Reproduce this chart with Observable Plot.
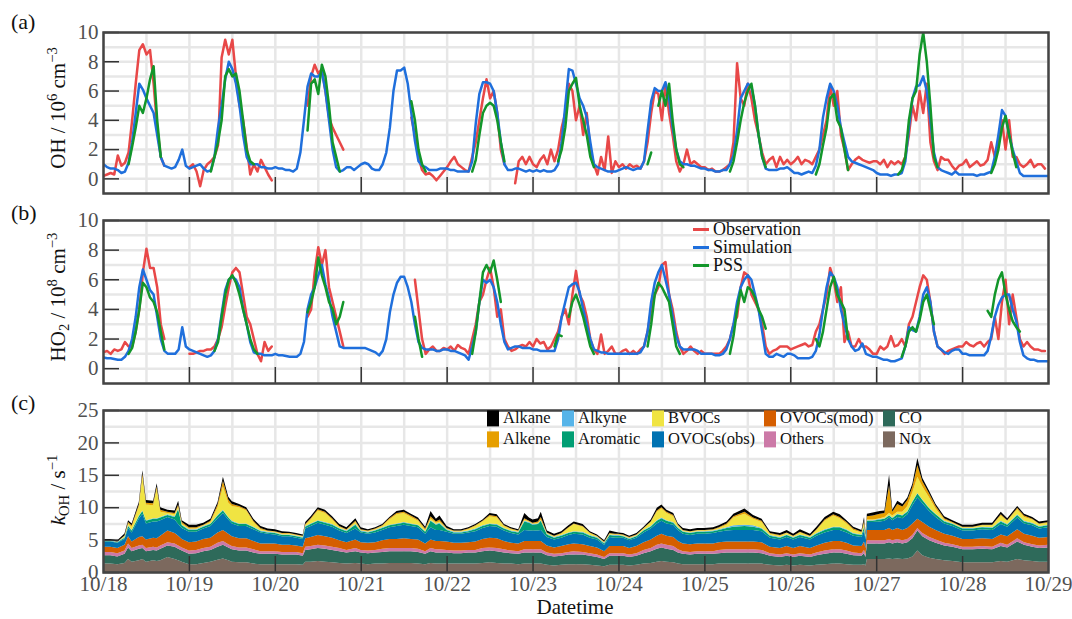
<!DOCTYPE html>
<html><head><meta charset="utf-8">
<script src="https://cdn.jsdelivr.net/npm/d3@7"></script>
<script src="https://cdn.jsdelivr.net/npm/@observablehq/plot@0.6"></script>
<style>
body{margin:0;background:#fff;}
#wrap{position:relative;width:1072px;height:619px;overflow:hidden;font-family:"Liberation Serif","Times New Roman",serif;color:#111;}
#wrap svg, #wrap svg text{font-family:"Liberation Serif","Times New Roman",serif !important;}
.panel{position:absolute;left:0;}
.ylab{position:absolute;transform:translate(-50%,-50%) rotate(-90deg);white-space:nowrap;font-size:21px;line-height:21px;}
.plab{position:absolute;font-size:22px;line-height:22px;transform:translateY(-50%);}
sup{font-size:70%;vertical-align:0.5em;line-height:0;}
sub{font-size:70%;vertical-align:-0.3em;line-height:0;}
.lg{position:absolute;font-size:18px;line-height:18px;white-space:nowrap;transform:translateY(-50%);}
.lg span.ln{display:inline-block;width:16px;height:3px;vertical-align:middle;margin-right:4px;position:relative;top:-1px;}
.lc{position:absolute;font-size:16.5px;line-height:16px;white-space:nowrap;transform:translateY(-50%);}
.lc span.sw{display:inline-block;width:12px;height:16px;vertical-align:middle;margin-right:4px;position:relative;top:-1px;}
.xt{position:absolute;font-size:21px;line-height:21px;white-space:nowrap;transform:translateX(-50%);}
</style></head><body><div id="wrap"></div>
<script>
const _ = null;
const dayLabels = ["10/18","10/19","10/20","10/21","10/22","10/23","10/24","10/25","10/26","10/27","10/28","10/29"];

// ---------- (a) OH, hourly from 10/18 00:00 ----------
const ohSim = [
 [1.0,0.8,0.7,0.7,0.6,0.4,0.5,1.1,2.5,4.5,6.5,6.1,5.5,5.0,4.5,3.0,1.5,0.9,0.8,0.7,0.8,1.3,2.0,0.9],
 [0.7,0.8,0.9,1.0,0.7,0.5,0.6,1.5,3.5,5.0,6.8,8.0,7.5,6.5,5.0,3.0,1.5,1.0,1.0,1.0,0.8,0.8,0.7,0.7],
 [0.8,0.7,0.7,0.6,0.6,0.5,0.7,1.8,4.0,6.3,7.2,7.0,7.0,7.3,6.0,4.0,2.0,0.8,0.5,0.6,0.8,0.8,0.6,0.8],
 [1.0,1.1,1.0,0.7,0.6,0.6,1.0,1.8,3.5,6.0,7.4,7.4,7.6,6.5,4.5,2.6,1.2,0.9,0.8,0.6,0.6,0.6,0.7,0.7],
 [0.7,0.6,0.6,0.5,0.5,0.5,0.5,1.2,3.8,5.8,6.6,6.6,6.5,6.0,4.5,2.5,1.0,0.6,0.6,0.7,0.7,0.6,0.5,0.6],
 [0.5,0.6,0.5,0.6,0.5,0.5,0.6,1.0,2.5,5.0,7.5,7.4,6.5,5.5,5.0,4.2,2.5,1.0,0.8,0.7,0.6,0.5,0.5,0.5],
 [0.6,0.7,0.8,0.7,0.6,0.7,0.7,1.2,3.3,5.3,6.2,6.0,6.0,6.6,5.5,3.5,2.0,1.2,1.0,1.0,0.9,0.9,0.8,0.7],
 [0.7,0.6,0.6,0.5,0.5,0.6,0.6,1.0,1.6,3.3,5.5,6.0,6.5,6.3,5.0,3.0,1.5,0.7,0.6,0.6,0.6,0.7,0.7,0.8],
 [0.6,0.4,0.4,0.3,0.4,0.5,0.4,0.9,2.0,4.2,5.5,6.5,6.0,5.0,3.5,2.5,1.5,1.2,1.1,1.0,0.9,0.8,0.7,0.6],
 [0.4,0.3,0.3,0.3,0.2,0.3,0.3,0.4,1.2,3.5,5.5,6.3,6.4,7.0,6.0,4.0,1.8,0.8,0.6,0.5,0.4,0.3,0.5,0.3],
 [0.3,0.3,0.3,0.3,0.2,0.3,0.3,0.4,0.5,1.5,3.0,4.7,4.3,3.0,2.0,1.2,0.4,0.2,0.2,0.2,0.2,0.2,0.2,0.2],
 [0.2]];
const ohObs = [
 [0.2,0.3,0.4,0.3,1.6,0.9,1.1,1.8,4.0,6.5,8.8,9.2,8.5,8.8,6.5,3.5,1.5,0.9,_,_,_,_,_,_],
 [0.8,1.0,0.5,-0.5,0.6,1.0,1.2,1.5,2.3,8.3,9.5,8.5,9.5,7.0,5.0,4.0,2.2,0.3,1.0,0.5,1.3,0.8,0.3,-0.1],
 [_,_,_,_,_,_,_,_,_,5.0,7.0,7.8,7.2,7.5,6.0,4.2,3.5,3.0,2.5,2.0,_,_,_,_],
 [_,_,_,_,_,_,_,_,_,_,_,_,_,_,4.2,3.0,1.5,0.6,0.3,0.4,0.2,-0.1,0.2,0.5],
 [0.8,1.2,1.5,1.0,0.8,0.6,0.5,1.5,2.5,4.0,5.5,6.8,5.5,6.0,4.5,2.0,1.0,_,_,-0.3,1.2,1.5,1.0,1.5],
 [1.0,0.8,1.3,1.6,1.0,2.0,1.2,2.0,3.5,4.5,6.5,6.0,4.0,5.0,3.0,4.5,2.0,1.0,0.3,1.5,0.6,2.9,0.4,1.2],
 [0.8,1.0,0.7,1.0,0.8,0.9,0.7,1.2,2.5,4.5,6.0,5.8,4.0,6.5,4.5,3.0,1.2,0.5,1.0,2.0,1.0,1.2,1.0,0.8],
 [0.8,0.6,0.7,0.5,0.5,0.6,0.8,1.0,2.5,7.9,5.5,5.0,6.5,5.5,4.0,3.0,1.8,1.0,1.3,1.5,0.8,1.5,1.0,1.3],
 [1.0,1.2,1.5,1.0,1.3,1.2,1.0,1.5,2.0,3.0,4.0,6.4,5.0,6.0,3.0,2.0,0.6,1.0,1.3,1.5,1.3,1.2,1.1,1.2],
 [1.2,1.0,1.3,0.8,1.2,1.0,1.2,1.0,1.5,3.0,5.0,4.0,6.0,4.5,6.5,2.5,1.2,0.6,1.5,1.3,1.3,0.9,0.6,0.9],
 [1.0,1.3,0.8,1.0,1.2,0.9,1.0,1.3,2.5,1.5,2.5,4.0,2.0,4.0,1.5,1.5,1.0,0.8,1.0,1.3,0.8,1.0,1.0,0.7],
 [_]];
const ohPss = [
 [_,_,_,_,_,_,_,1.0,2.2,3.5,5.0,4.5,5.5,6.8,7.7,4.0,1.5,_,_,_,_,_,_,_],
 [_,_,_,_,_,_,0.5,1.5,2.5,4.0,7.0,7.5,7.0,7.2,6.0,4.0,2.0,1.2,1.0,_,_,_,_,_],
 [_,_,_,_,_,_,_,_,_,3.3,6.5,6.8,5.8,7.8,7.0,5.0,2.5,1.5,0.5,_,_,_,_,_],
 [_,_,_,_,_,_,_,_,_,_,_,_,_,_,5.3,4.0,2.0,1.0,0.5,_,_,_,_,_],
 [_,_,_,_,_,_,_,0.5,1.3,3.0,4.5,5.0,5.2,5.0,4.0,2.5,1.2,_,_,_,_,_,_,_],
 [_,_,_,_,_,_,_,1.2,2.0,3.5,6.0,6.5,6.9,5.0,4.0,3.0,1.5,0.8,_,_,_,_,_,_],
 [_,_,_,_,_,_,_,_,1.0,1.8,_,5.0,6.0,5.0,6.5,4.0,2.0,1.0,0.8,_,_,_,_,_],
 [_,_,_,_,_,_,_,0.5,1.2,2.5,4.0,5.2,6.0,6.5,5.0,3.0,1.5,0.8,_,_,_,_,_,_],
 [_,_,_,_,_,_,_,0.3,1.0,2.3,3.5,5.5,5.8,4.0,3.5,2.0,0.6,_,_,_,_,_,_,_],
 [_,_,_,_,_,_,0.3,0.6,1.5,4.0,5.5,6.0,8.5,10.0,8.0,5.0,1.5,0.8,_,_,_,_,_,_],
 [_,_,_,_,_,_,_,_,0.4,1.0,2.0,3.5,4.3,3.0,1.8,0.8,_,_,_,_,_,_,_,_],
 [_]];

// ---------- (b) HO2, hourly ----------
const ho2Sim = [
 [0.75,0.7,0.7,0.65,0.6,0.6,0.8,1.2,2.0,3.5,5.5,6.7,6.0,5.3,5.0,3.5,2.0,1.2,1.0,1.0,1.0,1.3,2.8,1.5],
 [1.3,1.2,1.1,1.0,0.9,0.8,0.9,1.2,2.0,3.7,5.3,6.0,6.2,6.0,5.5,4.0,3.0,1.8,1.1,1.0,1.0,0.9,0.9,0.9],
 [1.0,0.9,0.9,0.85,0.8,0.8,0.8,1.0,1.8,4.0,5.0,5.5,6.3,7.0,5.7,4.8,3.5,2.5,1.5,1.4,1.4,1.4,1.4,1.4],
 [1.4,1.4,1.3,1.2,1.1,0.9,1.2,2.0,3.8,5.0,5.8,6.2,6.2,5.5,4.5,3.0,1.8,1.4,1.3,1.3,1.3,1.2,1.2,1.3],
 [1.3,1.2,1.2,1.1,1.0,0.9,0.6,1.5,2.5,4.5,6.0,5.8,6.0,5.5,4.5,3.0,1.8,1.3,1.4,1.5,1.5,1.4,1.4,1.4],
 [1.3,1.3,1.2,1.2,1.2,1.2,1.2,2.0,3.5,4.5,5.5,5.7,5.8,5.2,4.0,3.0,2.0,1.3,1.2,1.1,1.1,1.0,1.0,1.0],
 [1.0,1.0,1.0,1.0,1.0,1.0,1.1,1.5,2.5,4.5,5.8,6.5,7.0,6.0,5.0,3.5,2.2,1.5,1.3,1.3,1.3,1.3,1.2,1.0],
 [1.0,1.0,1.0,0.9,0.9,1.0,1.3,2.0,3.0,4.5,5.5,6.0,6.3,6.0,5.0,4.0,2.5,1.0,0.8,0.8,1.0,0.9,0.8,1.0],
 [1.0,0.9,0.7,0.7,0.7,0.7,0.8,1.2,2.3,4.0,5.5,6.5,6.2,5.5,4.0,3.0,2.0,1.5,1.2,1.3,1.7,1.0,0.9,0.8],
 [0.8,0.7,0.6,0.6,0.5,0.5,0.6,0.7,1.5,2.8,2.6,2.5,3.5,5.0,5.5,4.5,2.5,1.5,1.3,1.1,1.0,1.2,1.3,1.3],
 [1.0,1.0,0.9,0.9,0.9,0.9,0.9,1.2,2.2,3.5,4.3,4.8,5.0,5.0,4.0,3.2,1.8,0.9,0.7,0.6,0.6,0.5,0.5,0.5],
 [0.5]];
const ho2Obs = [
 [1.1,1.2,1.0,1.3,1.2,1.3,1.8,1.5,1.5,2.5,4.0,6.5,8.1,6.8,6.8,5.5,3.0,2.0,_,_,_,_,_,_],
 [1.0,1.0,1.1,1.2,1.2,1.3,1.3,1.5,2.0,2.8,4.2,5.5,6.5,6.8,6.5,5.0,3.5,3.0,2.0,1.0,0.5,1.8,1.2,1.5],
 [_,_,_,_,_,_,_,_,_,3.5,4.0,6.5,8.2,7.0,8.0,5.5,4.5,3.5,2.5,1.5,_,_,_,_],
 [_,_,_,_,_,_,_,_,_,_,_,_,_,_,_,6.0,4.0,2.0,1.0,1.3,1.5,1.2,1.2,1.4],
 [1.3,1.5,1.2,1.6,1.4,1.3,1.0,2.0,3.0,4.5,5.0,6.0,6.8,5.5,3.5,4.0,2.0,1.5,1.2,1.3,1.5,1.6,1.5,1.8],
 [1.5,2.0,1.7,1.8,1.3,1.5,2.0,2.5,3.5,4.0,3.0,5.0,6.6,5.0,4.5,3.5,2.0,1.3,1.0,2.3,1.0,1.2,1.5,1.0],
 [1.0,1.2,1.3,1.0,1.2,1.0,1.3,1.5,2.5,4.0,5.0,5.5,7.0,7.2,5.0,4.0,2.5,1.5,1.0,1.2,1.5,1.2,1.0,1.2],
 [1.0,1.0,1.0,1.0,1.0,1.2,1.5,2.0,3.0,3.5,5.5,6.5,6.3,5.0,4.5,4.0,3.0,1.5,1.0,1.2,1.3,1.5,1.5,1.5],
 [1.3,1.4,1.5,1.6,1.7,1.5,1.6,2.5,3.0,4.0,5.0,6.8,6.0,4.5,5.5,1.8,2.5,1.5,1.5,2.0,1.5,1.5,1.3,1.0],
 [1.0,1.5,1.3,1.5,2.2,1.5,1.6,2.0,1.5,3.0,3.5,4.5,5.5,6.3,6.0,4.5,2.5,1.5,1.3,1.0,1.2,1.3,1.4,1.5],
 [1.5,1.8,1.6,1.5,1.7,1.8,1.5,1.8,2.0,3.5,2.0,4.5,6.0,3.0,5.0,3.5,2.0,1.5,1.8,1.5,1.3,1.3,1.2,1.2],
 [_]];
const ho2Pss = [
 [_,_,_,_,_,_,_,1.0,1.4,2.5,4.0,5.8,5.5,4.8,4.5,3.8,2.5,1.3,_,_,_,_,_,_],
 [_,_,_,_,_,_,_,1.2,1.8,3.5,5.0,6.0,6.3,5.8,5.0,4.0,3.0,2.0,1.3,1.0,_,_,_,_],
 [_,_,_,_,_,_,_,_,_,3.8,4.5,5.5,7.5,6.3,5.5,4.5,4.0,3.0,3.5,4.5,_,_,_,_],
 [_,_,_,_,_,_,_,_,_,_,_,_,_,_,_,3.5,2.0,0.8,_,_,_,_,_,_],
 [_,_,_,_,_,_,_,1.0,2.5,4.5,6.5,7.0,6.5,7.3,6.0,4.5,_,_,_,_,_,_,_,_],
 [_,_,_,_,_,_,1.5,2.3,2.2,_,3.5,4.5,5.0,4.3,3.5,2.5,1.5,1.0,_,_,_,_,_,_],
 [_,_,_,_,_,_,_,_,1.5,3.0,5.0,5.8,5.5,5.0,4.5,3.0,1.5,1.0,_,_,_,_,_,_],
 [_,_,_,_,_,_,_,1.0,2.2,4.0,5.3,4.5,5.5,5.3,4.8,4.0,3.5,2.7,_,_,_,_,_,_],
 [_,_,_,_,_,_,_,2.0,1.5,2.5,4.0,5.5,6.2,5.0,4.5,4.0,2.0,_,_,_,_,_,_,_],
 [_,_,_,_,_,_,_,0.8,1.5,2.5,2.8,2.5,3.3,4.5,5.0,4.0,3.0,_,_,_,_,_,_,_],
 [_,_,_,_,_,_,_,3.9,3.5,5.0,6.0,6.5,5.0,4.0,3.2,2.8,2.5,_,_,_,_,_,_,_],
 [_]];

// ---------- (c) kOH components, hours since 10/18 00:00 ----------
const kTime = [
 0,2,4,6,7,8,10,11,12,14,15,16,18,20,21,22,
 24,26,28,30,32,33.5,35,36,38,40,42,44,46,
 48,50,52,54,55.8,56.5,58,60,62,64,66,68,70.5,
 72,74,76,78,80,82,84,86,88,90,91.5,93,94,
 96,98,100,102,104,106,108,110,112,114,116,117.7,119,
 120,121.5,122.3,124,126,128,130,131.5,134,136,138,140,141.5,143,
 144,145.3,147,149,151,153,154.7,156,157.4,159.3,160.6,162,164,166,
 168,170.4,172,174.2,176.1,179.2,181.6,184,186.3,189.1,191,
 192.8,194.7,197.5,199.3,201.6,204,205.8,207.7,209.6,211.9,212.6,213.0,213.4,215,217,
 218.3,219.6,220.5,221.9,223.3,224.7,226.1,227.5,228.9,230.8,232.6,235,237.3,240.1,
 242.9,245.6,248.4,250.8,252.6,255.4,257.3,259.6,261.5,264];
const kNOx = [
 1.3,1.3,1.2,1.4,2.0,1.6,1.8,2.0,1.6,1.8,1.7,1.8,2.3,2.0,1.8,1.6,
 1.2,1.2,1.4,1.6,1.9,2.1,1.8,1.6,1.5,1.5,1.3,1.2,1.2,
 1.2,1.2,1.2,1.2,1.1,1.6,1.6,1.7,1.6,1.5,1.4,1.3,1.4,
 1.3,1.2,1.3,1.3,1.4,1.4,1.4,1.4,1.3,1.2,1.4,1.3,1.3,
 1.3,1.3,1.3,1.3,1.3,1.4,1.5,1.4,1.3,1.3,1.2,1.3,1.3,
 1.3,1.3,1.3,1.1,1.0,1.1,1.2,1.2,1.2,1.1,1.0,0.9,1.1,1.1,
 1.1,1.1,1.0,1.1,1.3,1.4,1.6,1.7,1.6,1.5,1.3,1.2,1.2,1.2,
 1.2,1.2,1.3,1.3,1.3,1.3,1.3,1.3,1.1,1.0,1.1,
 1.0,1.1,1.0,1.1,1.2,1.3,1.3,1.2,1.1,1.1,1.2,1.0,2.0,2.0,2.0,
 2.0,2.1,2.0,2.1,2.0,2.1,2.4,3.3,2.6,2.2,2.0,1.8,1.7,1.5,
 1.5,1.5,1.5,1.7,1.6,2.0,1.8,1.7,1.6,1.6];
const kCO = [
 1.3,1.3,1.2,1.4,1.8,1.6,1.8,1.7,1.6,1.6,1.6,1.8,1.8,1.9,1.8,1.7,
 1.6,1.7,1.8,1.8,2.0,2.1,2.0,1.9,1.8,1.8,1.7,1.6,1.6,
 1.6,1.5,1.5,1.5,1.4,1.8,1.9,2.0,2.0,1.9,1.8,1.7,1.8,
 1.7,1.7,1.7,1.8,1.8,1.8,1.8,1.8,1.8,1.6,1.8,1.7,1.7,
 1.7,1.6,1.6,1.7,1.7,1.8,1.8,1.8,1.7,1.6,1.6,1.7,1.7,
 1.7,1.7,1.7,1.5,1.4,1.4,1.5,1.5,1.5,1.4,1.3,1.1,1.4,1.4,
 1.4,1.4,1.3,1.4,1.6,1.8,2.0,2.1,2.0,1.9,1.7,1.6,1.5,1.6,
 1.6,1.6,1.6,1.7,1.7,1.7,1.7,1.6,1.4,1.3,1.4,
 1.3,1.4,1.3,1.5,1.6,1.7,1.7,1.6,1.5,1.4,1.7,1.3,2.4,2.4,2.4,
 2.4,2.5,2.4,2.5,2.4,2.5,2.8,3.1,2.9,2.7,2.5,2.3,2.2,2.0,
 2.0,2.1,2.0,2.3,2.2,2.7,2.4,2.2,2.1,2.2];
const kOthers = [
 0.5,0.5,0.5,0.5,0.6,0.5,0.5,0.5,0.5,0.5,0.5,0.5,0.5,0.5,0.5,0.5,
 0.5,0.5,0.5,0.5,0.6,0.6,0.5,0.5,0.5,0.5,0.5,0.4,0.4,
 0.4,0.4,0.4,0.4,0.4,0.5,0.5,0.5,0.5,0.5,0.5,0.4,0.5,
 0.4,0.4,0.4,0.5,0.5,0.5,0.5,0.5,0.5,0.4,0.5,0.5,0.5,
 0.4,0.4,0.4,0.4,0.4,0.5,0.5,0.5,0.5,0.4,0.4,0.5,0.5,
 0.5,0.5,0.5,0.4,0.4,0.4,0.4,0.5,0.4,0.4,0.4,0.3,0.4,0.4,
 0.4,0.4,0.4,0.4,0.5,0.5,0.6,0.6,0.6,0.6,0.5,0.4,0.4,0.4,
 0.4,0.4,0.5,0.5,0.5,0.5,0.5,0.5,0.4,0.4,0.4,
 0.4,0.4,0.4,0.4,0.5,0.5,0.5,0.5,0.4,0.4,0.5,0.4,0.5,0.5,0.5,
 0.5,0.5,0.5,0.5,0.5,0.5,0.5,0.4,0.5,0.5,0.5,0.4,0.4,0.4,
 0.4,0.4,0.4,0.5,0.4,0.5,0.4,0.4,0.4,0.4];
const kOVOCmod = [
 0.8,0.8,0.8,0.9,1.1,1.0,1.3,1.3,1.3,1.4,1.4,1.5,1.8,1.6,1.5,1.3,
 1.3,1.3,1.4,1.4,1.6,1.7,1.6,1.5,1.4,1.4,1.3,1.2,1.2,
 1.2,1.1,1.1,1.0,1.0,1.3,1.4,1.5,1.4,1.4,1.2,1.2,1.3,
 1.2,1.2,1.2,1.3,1.4,1.4,1.5,1.4,1.4,1.2,1.3,1.3,1.3,
 1.3,1.2,1.2,1.2,1.3,1.4,1.5,1.5,1.3,1.2,1.2,1.3,1.3,
 1.3,1.3,1.3,1.1,1.0,1.1,1.2,1.2,1.2,1.1,1.1,0.9,1.1,1.1,
 1.1,1.1,1.0,1.1,1.2,1.3,1.4,1.5,1.4,1.4,1.3,1.2,1.2,1.2,
 1.2,1.2,1.2,1.2,1.2,1.2,1.2,1.2,1.0,1.0,1.1,
 1.0,1.1,1.0,1.1,1.2,1.3,1.3,1.2,1.1,1.1,1.3,1.0,1.6,1.6,1.6,
 1.6,1.7,1.6,1.7,1.6,1.7,1.8,1.4,1.7,1.6,1.5,1.4,1.3,1.2,
 1.2,1.2,1.2,1.3,1.3,1.4,1.3,1.3,1.2,1.2];
const kOVOCobs = [
 0.8,0.8,0.8,0.9,1.3,1.4,2.8,3.5,2.5,2.5,2.6,2.4,2.1,2.1,1.8,1.7,
 1.6,1.5,1.6,1.8,2.2,2.6,2.2,2.0,1.9,1.9,1.8,1.7,1.5,
 1.4,1.3,1.3,1.2,1.2,1.5,1.7,1.9,1.8,1.7,1.5,1.4,1.7,
 1.5,1.4,1.5,1.6,1.8,2.0,2.1,2.0,1.9,1.5,1.9,1.7,1.7,
 1.5,1.4,1.4,1.5,1.6,1.7,1.8,1.8,1.6,1.5,1.4,1.7,1.6,
 1.6,1.6,1.7,1.3,1.2,1.3,1.4,1.5,1.5,1.3,1.2,1.0,1.4,1.3,
 1.3,1.3,1.2,1.3,1.5,1.7,1.9,2.0,1.9,1.9,1.7,1.5,1.4,1.5,
 1.5,1.6,1.6,1.7,1.8,1.8,1.8,1.7,1.4,1.3,1.4,
 1.3,1.4,1.3,1.5,1.6,1.7,1.7,1.6,1.5,1.4,1.7,1.3,1.2,1.2,1.3,
 1.4,1.6,1.5,1.7,1.8,2.1,2.8,3.3,2.9,2.4,2.0,1.6,1.5,1.3,
 1.3,1.4,1.4,1.6,1.5,1.8,1.6,1.6,1.4,1.5];
const kAromatic = [
 0.1,0.1,0.1,0.2,0.3,0.3,0.4,0.4,0.4,0.4,0.4,0.4,0.3,0.4,2.3,0.4,
 0.3,0.3,0.3,0.3,0.4,0.4,0.3,0.3,0.3,0.3,0.3,0.2,0.2,
 0.2,0.2,0.2,0.2,0.2,0.3,0.3,0.3,0.3,0.3,0.3,0.3,0.6,
 0.2,0.2,0.3,0.3,0.3,0.3,0.3,0.3,0.3,0.3,1.0,0.8,1.0,
 0.3,0.2,0.2,0.2,0.3,0.3,0.3,0.3,0.3,0.3,0.3,1.3,1.2,
 0.9,1.0,1.4,0.4,0.3,0.3,0.3,0.3,0.3,0.3,0.3,0.2,0.3,0.3,
 0.3,0.2,0.2,0.2,0.3,0.3,0.4,0.4,0.4,0.3,0.3,0.3,0.3,0.3,
 0.3,0.3,0.3,0.4,0.5,0.6,0.5,0.4,0.3,0.3,0.3,
 0.3,0.3,0.3,0.3,0.4,0.4,0.4,0.4,0.3,0.3,0.5,0.3,0.2,0.2,0.3,
 0.3,0.3,0.3,0.4,0.4,0.4,0.5,0.6,0.5,0.4,0.4,0.3,0.3,0.3,
 0.3,0.3,0.3,0.4,0.3,0.4,0.3,0.3,0.3,0.3];
const kAlkyne = [
 0.05,0.05,0.05,0.05,0.1,0.1,0.1,0.1,0.1,0.1,0.1,0.1,0.1,0.1,0.1,0.1,
 0.1,0.1,0.1,0.1,0.1,0.1,0.1,0.1,0.1,0.1,0.1,0.1,0.1,
 0.1,0.1,0.1,0.1,0.1,0.1,0.1,0.1,0.1,0.1,0.1,0.1,0.1,
 0.1,0.1,0.1,0.1,0.1,0.1,0.1,0.1,0.1,0.1,0.1,0.1,0.1,
 0.1,0.1,0.1,0.1,0.1,0.1,0.1,0.1,0.1,0.1,0.1,0.1,0.1,
 0.1,0.1,0.1,0.1,0.1,0.1,0.1,0.1,0.1,0.1,0.1,0.1,0.1,0.1,
 0.1,0.1,0.1,0.1,0.1,0.1,0.1,0.1,0.1,0.1,0.1,0.1,0.1,0.1,
 0.1,0.1,0.1,0.1,0.2,0.2,0.2,0.1,0.1,0.1,0.1,
 0.1,0.1,0.1,0.1,0.1,0.1,0.1,0.1,0.1,0.1,0.1,0.1,0.1,0.1,0.1,
 0.1,0.1,0.1,0.1,0.1,0.1,0.1,0.1,0.1,0.1,0.1,0.1,0.1,0.1,
 0.1,0.1,0.1,0.1,0.1,0.1,0.1,0.1,0.1,0.1];
const kBVOCs = [
 0,0,0,0.2,0.3,0.5,1.4,5.2,2.4,2.0,4.5,0.8,0.2,0.3,0.3,0.2,
 0.1,0.1,0.1,0.2,1.2,3.6,2.2,2.3,2.5,2.0,0.7,0.2,0.1,
 0.1,0.1,0.1,0.1,0.1,0.2,0.6,1.5,1.4,0.7,0.2,0.1,0.3,
 0.1,0.1,0.1,0.2,0.8,1.4,1.4,1.0,0.6,0.2,0.3,0.2,0.2,
 0.1,0.1,0.1,0.2,0.4,0.6,1.1,1.0,0.3,0.2,0.1,0.2,0.1,
 0.1,0.1,0.1,0.1,0.1,0.2,0.7,1.1,0.8,0.3,0.1,0.1,0.1,0.1,
 0.1,0.1,0.1,0.1,0.2,0.6,1.3,1.4,1.1,0.9,0.3,0.1,0.1,0.1,
 0.1,0.1,0.2,0.4,1.2,1.7,1.0,0.9,0.2,0.2,0.2,
 0.1,0.3,0.1,0.5,1.3,1.7,1.3,0.9,0.5,0.3,0.5,0.2,0.1,0.1,0.1,
 0.2,0.3,0.3,0.3,0.5,0.8,1.4,2.5,2.0,1.6,0.8,0.2,0.1,0.1,
 0.1,0.2,0.3,0.8,0.5,0.8,0.6,0.5,0.3,0.3];
const kAlkene = [
 0.05,0.05,0.05,0.1,0.2,0.2,0.3,0.5,0.3,0.3,0.4,0.3,0.2,0.2,0.3,0.2,
 0.2,0.2,0.1,0.2,0.4,0.9,0.5,0.3,0.2,0.2,0.2,0.2,0.1,
 0.1,0.1,0.1,0.1,0.1,0.1,0.2,0.2,0.2,0.2,0.1,0.1,0.2,
 0.1,0.1,0.1,0.1,0.2,0.2,0.2,0.2,0.2,0.2,0.3,0.2,0.3,
 0.1,0.1,0.1,0.1,0.1,0.1,0.2,0.2,0.1,0.1,0.1,0.2,0.1,
 0.1,0.2,0.4,0.1,0.1,0.1,0.1,0.1,0.1,0.1,0.1,0.1,0.1,0.1,
 0.1,0.1,0.1,0.1,0.1,0.1,0.2,0.2,0.2,0.2,0.1,0.1,0.1,0.1,
 0.1,0.1,0.1,0.2,0.2,0.3,0.2,0.2,0.1,0.1,0.1,
 0.1,0.1,0.1,0.1,0.2,0.2,0.2,0.2,0.2,0.1,0.4,0.1,0.5,0.6,0.7,
 0.6,4.3,0.6,1.2,0.8,0.9,0.8,1.8,0.8,0.6,0.4,0.2,0.1,0.1,
 0.1,0.1,0.1,0.2,0.1,0.2,0.2,0.1,0.1,0.1];
const kAlkane = [
 0.2,0.2,0.2,0.3,0.3,0.3,0.4,0.5,0.4,0.4,0.5,0.4,0.3,0.4,0.6,0.3,
 0.4,0.4,0.3,0.3,0.4,0.6,0.4,0.4,0.3,0.3,0.3,0.3,0.3,
 0.3,0.3,0.2,0.2,0.2,0.3,0.3,0.3,0.3,0.3,0.3,0.3,0.4,
 0.3,0.2,0.2,0.2,0.2,0.3,0.3,0.3,0.3,0.3,0.8,0.4,0.6,
 0.3,0.2,0.2,0.2,0.2,0.2,0.3,0.3,0.2,0.2,0.2,0.8,0.5,
 0.5,0.5,0.8,0.3,0.3,0.3,0.3,0.3,0.3,0.2,0.2,0.2,0.4,0.3,
 0.2,0.2,0.2,0.2,0.2,0.3,0.4,0.4,0.3,0.3,0.2,0.3,0.3,0.3,
 0.3,0.3,0.3,0.3,0.4,0.5,0.4,0.3,0.3,0.3,0.4,
 0.3,0.4,0.3,0.4,0.4,0.4,0.4,0.3,0.3,0.3,0.6,0.3,0.4,0.5,0.4,
 0.4,1.6,0.3,0.5,0.4,0.4,0.5,1.1,0.5,0.4,0.3,0.3,0.3,0.3,
 0.3,0.3,0.3,0.4,0.3,0.3,0.3,0.3,0.3,0.3];

const compNames  = ["Alkane","Alkene","Alkyne","Aromatic","BVOCs","OVOCs(obs)","OVOCs(mod)","Others","CO","NOx"];
const compColors = ["#000000","#E69F00","#56B4E9","#009E73","#F0E442","#0072B2","#D55E00","#CC79A7","#2E6A5A","#7C695E"];
const stackOrder = ["NOx","CO","Others","OVOCs(mod)","OVOCs(obs)","Aromatic","Alkyne","BVOCs","Alkene","Alkane"];
const compValues = {"NOx": kNOx, "CO": kCO, "Others": kOthers, "OVOCs(mod)": kOVOCmod, "OVOCs(obs)": kOVOCobs,
  "Aromatic": kAromatic, "Alkyne": kAlkyne, "BVOCs": kBVOCs, "Alkene": kAlkene, "Alkane": kAlkane};
const seriesNames  = ["Observation","Simulation","PSS"];
const seriesColors = ["#E84848","#1F6FDC","#12962A"];

// ---------- build ----------
for (const k in compValues) if (compValues[k].length !== kTime.length) throw new Error(k + " length " + compValues[k].length + " vs " + kTime.length);
function hourly(days) { const flat = days.flat(); if (flat.length !== 265) throw new Error("hourly length " + flat.length); return flat.map((v, i) => ({t: i, v})); }
const kRows = stackOrder.flatMap(name => compValues[name].map((v, i) => ({t: kTime[i], v, comp: name})));

const F = '"Liberation Serif","Times New Roman",serif';
const gridCol = "#e7e7e7";
const halfDays = d3.range(0, 265, 12);
const dayTicks = dayLabels.map((d, i) => i * 24);

function axes(yTicks, withLabels) {
  const m = [
    Plot.axisY(yTicks, {tickSize: 0, tickPadding: 5, label: null, fontSize: 21, fontFamily: F, color: "#505050"}),
    Plot.axisY(yTicks, {tickSize: 16, dx: 16, tickFormat: () => "", label: null, color: "#333", strokeWidth: 1.5}),
    Plot.axisX(dayTicks.slice(1, -1), {tickSize: 16, dy: -16, tickFormat: () => "", label: null, color: "#333", strokeWidth: 1.5})
  ];
  if (withLabels) m.push(Plot.axisX(dayTicks, {tickSize: 0, tickPadding: 4, tickFormat: d => dayLabels[Math.round(d / 24)], label: null, fontSize: 21, fontFamily: F, color: "#505050"}));
  m.push(Plot.frame({stroke: "#444", strokeWidth: 2.5}));
  return m;
}

function linePanel(obs, sim, pss, height, mt, mb) {
  const data = [obs, sim, pss].map(hourly);
  return Plot.plot({
    width: 1072, height, marginTop: mt, marginBottom: mb, marginLeft: 103, marginRight: 24,
    style: {fontFamily: F, fontSize: "21px", background: "transparent", overflow: "visible"},
    x: {domain: [0, 264], label: null}, y: {domain: [-1, 10], label: null},
    marks: [
      Plot.gridX(halfDays, {stroke: gridCol, strokeOpacity: 1, strokeWidth: 2.5}),
      Plot.gridY(d3.range(-1, 11), {stroke: gridCol, strokeOpacity: 1, strokeWidth: 2.5}),
      ...data.map((rows, j) => Plot.line(rows, {x: "t", y: "v", stroke: seriesColors[j], strokeWidth: 2.5, clip: true})),
      ...axes([0, 2, 4, 6, 8, 10], false)
    ]
  });
}

const wrap = document.getElementById("wrap");
function place(el, top) { el.classList.add("panel"); el.style.top = top + "px"; wrap.appendChild(el); }

place(linePanel(ohObs, ohSim, ohPss, 200, 32, 7), 0);
place(linePanel(ho2Obs, ho2Sim, ho2Pss, 190, 20, 7), 200);
place(Plot.plot({
  width: 1072, height: 229, marginTop: 20, marginBottom: 47, marginLeft: 103, marginRight: 24,
  style: {fontFamily: F, fontSize: "21px", background: "transparent", overflow: "visible"},
  x: {domain: [0, 264], label: null}, y: {domain: [0, 25], label: null},
  color: {domain: compNames, range: compColors},
  marks: [
    Plot.gridX(halfDays, {stroke: gridCol, strokeOpacity: 1, strokeWidth: 2.5}),
    Plot.gridY(d3.range(0, 25.1, 2.5), {stroke: gridCol, strokeOpacity: 1, strokeWidth: 2.5}),
    Plot.areaY(kRows, {x: "t", y: "v", fill: "comp", order: stackOrder, clip: true}),
    ...axes([0, 5, 10, 15, 20, 25], true)
  ]
}), 390);

// ---------- text: panel letters, axis titles ----------
function addHTML(html) { wrap.insertAdjacentHTML("beforeend", html); }
addHTML('<div class="plab" style="left:11px;top:22px">(a)</div>');
addHTML('<div class="plab" style="left:11px;top:213px">(b)</div>');
addHTML('<div class="plab" style="left:11px;top:403px">(c)</div>');
addHTML('<div class="ylab" style="left:58px;top:108px">OH / 10<sup>6</sup> cm<sup>\u22123</sup></div>');
addHTML('<div class="ylab" style="left:58px;top:297px">HO<sub>2</sub> / 10<sup>8</sup> cm<sup>\u22123</sup></div>');
addHTML('<div class="ylab" style="left:58px;top:490px"><i>k</i><sub>OH</sub> / s<sup>\u22121</sup></div>');
addHTML('<div class="xt" style="left:575px;top:597px">Datetime</div>');

// legend (b)
seriesNames.forEach((s, j) => addHTML(`<div class="lg" style="left:693px;top:${229 + j * 18}px"><span class="ln" style="background:${seriesColors[j]}"></span>${s}</div>`));
// legend (c): five columns, two rows
const colLeft = [487, 562, 652, 764, 883];
compNames.forEach((c, j) => {
  const col = Math.floor(j / 2), row = j % 2;
  addHTML(`<div class="lc" style="left:${colLeft[col]}px;top:${419 + row * 21}px"><span class="sw" style="background:${compColors[j]}"></span>${c}</div>`);
});
</script></body></html>
